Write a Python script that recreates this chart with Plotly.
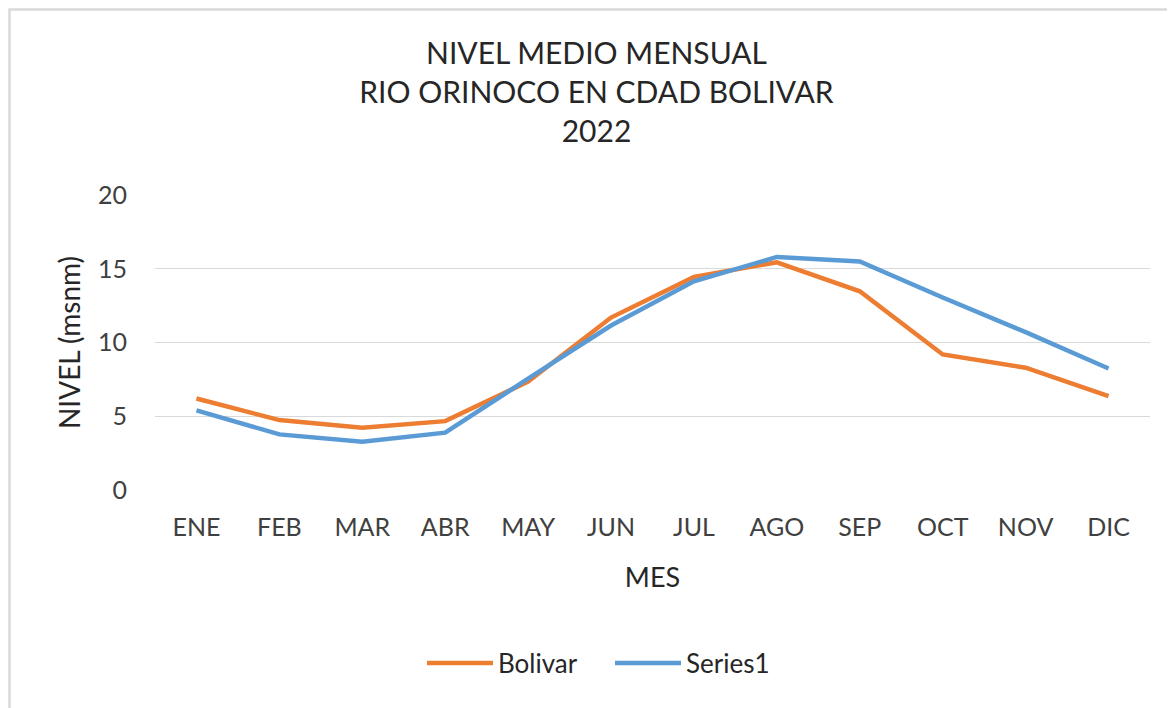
import plotly.graph_objects as go

months = ["ENE", "FEB", "MAR", "ABR", "MAY", "JUN", "JUL", "AGO", "SEP", "OCT", "NOV", "DIC"]
bolivar = [6.2, 4.74, 4.22, 4.67, 7.35, 11.69, 14.45, 15.44, 13.47, 9.19, 8.29, 6.37]
series1 = [5.4, 3.77, 3.28, 3.89, 7.55, 11.15, 14.15, 15.8, 15.5, 13.05, 10.7, 8.24]
y_ticks = [0, 5, 10, 15, 20]

FONT = "Lato"
OFF = 8  # page body margin offset
W, H = 1175, 708
L, R, T, B = 155 - OFF, 33, 195 - OFF, 226
pw, ph = W - L - R, H - T - B

fig = go.Figure()
fig.add_trace(go.Scatter(x=months, y=bolivar, name="Bolivar", mode="lines",
                         line=dict(color="#ED7D31", width=4.5)))
fig.add_trace(go.Scatter(x=months, y=series1, name="Series1", mode="lines",
                         line=dict(color="#5B9BD5", width=4.5)))

# outer chart frame (light gray)
fig.add_shape(type="rect", xref="paper", yref="paper",
              x0=(1.5 - L) / pw, x1=(W + 40 - L) / pw,
              y0=-(H + 40 - T - ph) / ph, y1=(H - B - 1.5) / ph,
              line=dict(color="#D9D9D9", width=2.5), fillcolor="rgba(0,0,0,0)", layer="below")

fig.update_layout(
    width=W, height=H,
    margin=dict(l=L, r=R, t=T, b=B),
    paper_bgcolor="white", plot_bgcolor="white",
    font=dict(family=FONT, color="#404040"),
    title=dict(text="NIVEL MEDIO MENSUAL<br>RIO ORINOCO EN CDAD BOLIVAR<br>2022",
               x=(596.5 - OFF) / W, xanchor="center", y=1 - (64 - OFF) / H, yanchor="middle",
               font=dict(family=FONT, size=30, color="#262626")),
    xaxis=dict(type="category", range=[-0.5, 11.5], showgrid=False, zeroline=False,
               showline=False, ticks="", tickfont=dict(size=25, color="#404040"),
               ticklabelstandoff=20,
               title=dict(text="MES", font=dict(size=27, color="#262626"), standoff=28)),
    yaxis=dict(range=[0, 20], tickvals=y_ticks, showgrid=True, gridcolor="#D9D9D9", gridwidth=1.3,
               zeroline=False, showline=False, ticks="",
               tickfont=dict(size=25, color="#404040"), ticklabelstandoff=27,
               title=dict(text="NIVEL (msnm)", font=dict(size=28, color="#262626"), standoff=9)),
    legend=dict(orientation="h", x=(427 - OFF - L - 5) / pw, xanchor="left",
                y=-(663 - OFF - (H - B)) / ph, yanchor="middle",
                font=dict(size=26, color="#262626"), itemwidth=66,
                entrywidth=107, entrywidthmode="pixels", traceorder="normal"),
    showlegend=True,
)

fig.write_html("out.html")
